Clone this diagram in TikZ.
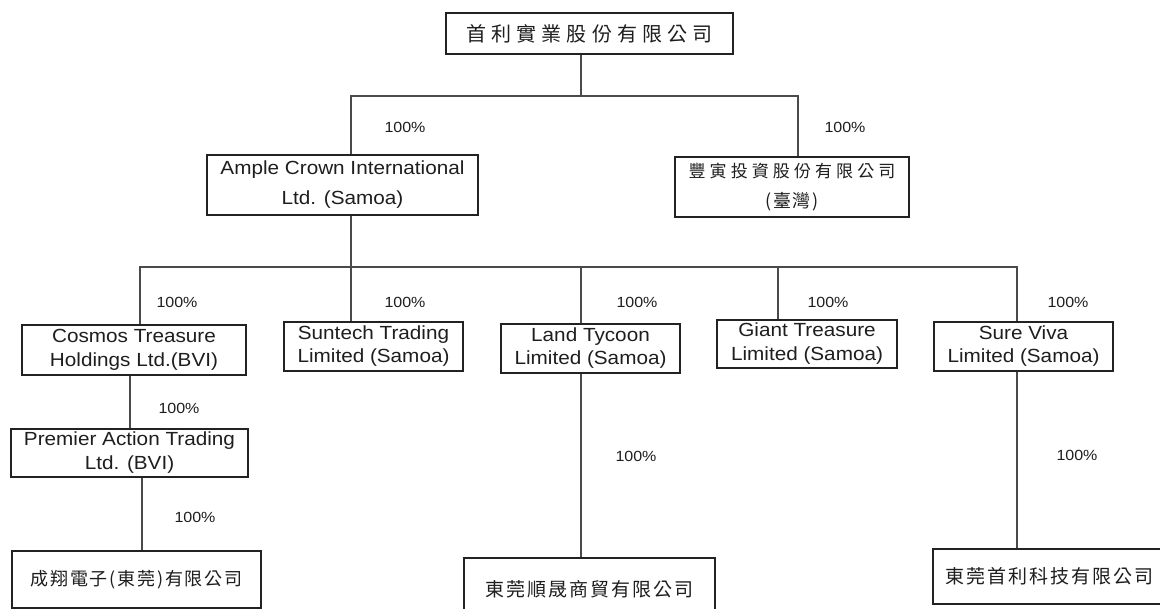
\documentclass[tikz,border=0pt]{standalone}
\usepackage{fontspec}
\setmainfont{Liberation Sans}[FakeStretch=1.09]
\newfontfamily\cjkwide{Noto Sans CJK TC}[LetterSpace=26]
\newfontfamily\cjkmid{Noto Sans CJK TC}[LetterSpace=24]
\newfontfamily\cjknarrow{Noto Sans CJK TC}[LetterSpace=10]
\definecolor{boxcol}{HTML}{222222}
\definecolor{linecol}{HTML}{4A4A4A}
\definecolor{txtcol}{HTML}{1E1E1E}
\begin{document}
\begin{tikzpicture}[x=1pt,y=-1pt,
  orgbox/.style={draw=boxcol, line width=1.4pt, inner sep=0pt, text=txtcol, align=center},
  link/.style={draw=linecol, line width=1.4pt},
  pct/.style={font=\fontsize{14.7}{17}\selectfont, text=txtcol, inner sep=0pt}]
\useasboundingbox (0,0) rectangle (1160,609);
\clip (0,0) rectangle (1160,609);
\fill[white] (0,0) rectangle (1160,609);

% boxes
\node[orgbox, minimum width=287pt, minimum height=41pt, font=\cjkwide\fontsize{20}{24}\selectfont] (top) at (589.5,33.5) {首利實業股份有限公司};
\node[orgbox, font=\fontsize{19}{30}\selectfont, minimum width=271pt, minimum height=60pt] (ample) at (342.5,185) {Ample Crown International\\Ltd. (Samoa)};
\node[orgbox, font=\cjkmid\fontsize{17}{30}\selectfont, minimum width=234pt, minimum height=60pt] (feng) at (792,187) {豐寅投資股份有限公司\\{\cjknarrow\fontsize{18}{30}\selectfont (臺灣)}};
\node[orgbox, font=\fontsize{19}{24}\selectfont, minimum width=224pt, minimum height=50pt] (cosmos) at (134,350) {Cosmos Treasure\\Holdings Ltd.(BVI)};
\node[orgbox, font=\fontsize{19}{23}\selectfont, minimum width=179pt, minimum height=49pt] (suntech) at (373.5,346.5) {Suntech Trading\\Limited (Samoa)};
\node[orgbox, font=\fontsize{19}{23}\selectfont, minimum width=179pt, minimum height=49pt] (land) at (590.5,348.5) {Land Tycoon\\Limited (Samoa)};
\node[orgbox, font=\fontsize{19}{24}\selectfont, minimum width=180pt, minimum height=48pt] (giant) at (807,344) {Giant Treasure\\Limited (Samoa)};
\node[orgbox, font=\fontsize{19}{23}\selectfont, minimum width=179pt, minimum height=49pt] (sure) at (1023.5,346.5) {Sure Viva\\Limited (Samoa)};
\node[orgbox, font=\fontsize{19}{24}\selectfont, minimum width=237pt, minimum height=48pt] (premier) at (129.5,453) {Premier Action Trading\\Ltd. (BVI)};
\node[orgbox, font=\cjknarrow\fontsize{18}{22}\selectfont, minimum width=249pt, minimum height=57pt] (cheng) at (136.5,579.5) {成翔電子(東莞)有限公司};
\node[orgbox, font=\cjknarrow\fontsize{19}{22}\selectfont, minimum width=251pt, minimum height=62pt] (shun) at (589.5,589) {東莞順晟商貿有限公司};
\node[orgbox, font=\cjknarrow\fontsize{19}{22}\selectfont, minimum width=233pt, minimum height=55pt] (keji) at (1049.5,576.5) {東莞首利科技有限公司};

% junction coordinates
\coordinate (j0) at (581,96);
\coordinate (j1) at (351,96);
\coordinate (j2) at (798,96);
\coordinate (k1) at (140,267);
\coordinate (k2) at (351,267);
\coordinate (k3) at (581,267);
\coordinate (k4) at (778,267);
\coordinate (k5) at (1017,267);
\coordinate (c1) at (130,400);
\coordinate (c2) at (142,500);

% connectors
\draw[link] (top.south -| j0) -- (j0);
\draw[link] (ample.north -| j1) |- (j2) -- (feng.north -| j2);
\draw[link] (ample.south -| k2) -- (suntech.north -| k2);
\draw[link] (cosmos.north -| k1) |- (k5) -- (sure.north -| k5);
\draw[link] (k3) -- (land.north -| k3);
\draw[link] (k4) -- (giant.north -| k4);
\draw[link] (cosmos.south -| c1) -- (premier.north -| c1);
\draw[link] (premier.south -| c2) -- (cheng.north -| c2);
\draw[link] (land.south -| k3) -- (shun.north -| k3);
\draw[link] (sure.south -| k5) -- (keji.north -| k5);

% percentage labels
\node[pct] (p1) at (405,127) {100\%};
\node[pct] (p2) at (845,127) {100\%};
\node[pct] (p3) at (177,302) {100\%};
\node[pct] (p4) at (405,302) {100\%};
\node[pct] (p5) at (637,302) {100\%};
\node[pct] (p6) at (828,302) {100\%};
\node[pct] (p7) at (1068,302) {100\%};
\node[pct] (p8) at (179,408) {100\%};
\node[pct] (p9) at (195,517) {100\%};
\node[pct] (p10) at (636,456) {100\%};
\node[pct] (p11) at (1077,455) {100\%};
\end{tikzpicture}
\end{document}
